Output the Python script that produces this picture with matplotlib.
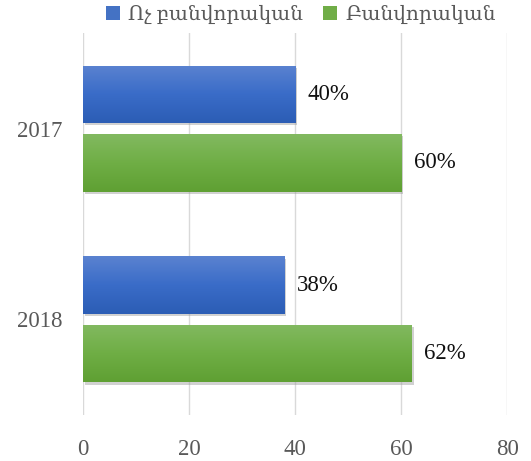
import matplotlib
matplotlib.use("Agg")
import matplotlib.pyplot as plt
import matplotlib.patheffects as pe
import numpy as np
from matplotlib.colors import LinearSegmentedColormap
from matplotlib.patches import Patch

categories = ["2018", "2017"]
series_names = ["Ոչ բանվորական", "Բանվորական"]
non_worker = [38, 40]
worker = [62, 60]
xticks = [0, 20, 40, 60, 80]

fam = ["Liberation Serif", "DejaVu Serif", "DejaVu Sans"]
plt.rcParams["font.family"] = fam

fig = plt.figure(figsize=(5.31, 4.61), dpi=100)
ax = fig.add_axes([0.156, 0.10, 0.799, 0.828])

y = np.arange(len(categories))
h = 0.30
off = 0.18

blue_cmap = LinearSegmentedColormap.from_list("b", ["#5A82D0", "#3A6CC8", "#2C5DB5"])
green_cmap = LinearSegmentedColormap.from_list("g", ["#82B960", "#6FAE45", "#5FA033"])

series = [(non_worker, y + off, blue_cmap, "#4472C4"), (worker, y - off, green_cmap, "#70AD47")]
shadow = [pe.SimplePatchShadow(offset=(1.5, -1.5), shadow_rgbFace="#999999", alpha=0.45), pe.Normal()]

for vals, pos, cmap, col in series:
    bars = ax.barh(pos, vals, height=h, color=col, zorder=3, path_effects=shadow)
    for b, v in zip(bars, vals):
        x0, y0 = b.get_x(), b.get_y()
        grad = np.linspace(0, 1, 64).reshape(-1, 1)
        im = ax.imshow(grad, cmap=cmap, aspect="auto", origin="upper",
                       extent=(x0, x0 + b.get_width(), y0, y0 + b.get_height()), zorder=4)
        im.set_clip_path(b)
        ax.text(v + 2.4, b.get_y() + b.get_height() / 2, f"{v}%", va="center", ha="left",
                fontsize=16.5, color="#111111", zorder=5)

ax.set_xlim(0, 80)
ax.set_ylim(-0.5, 1.5)
ax.set_xticks(xticks)
ax.set_xticklabels([str(t) for t in xticks], fontsize=16.5, color="#595959")
ax.set_yticks(y)
ax.set_yticklabels(categories, fontsize=16.5, color="#595959")
ax.tick_params(axis="both", length=0)
ax.tick_params(axis="x", pad=17)
ax.tick_params(axis="y", pad=15)
ax.grid(axis="x", color="#D9D9D9", linewidth=1, zorder=0)
for s in ax.spines.values():
    s.set_visible(False)

leg_handles = [Patch(facecolor="#4472C4"), Patch(facecolor="#70AD47")]
fig.legend(leg_handles, series_names, loc="center", bbox_to_anchor=(0.567, 0.966), ncol=2,
           frameon=False, fontsize=14.5, handlelength=0.7, handleheight=0.7,
           handletextpad=0.4, columnspacing=1.0, labelcolor="#595959")

fig.savefig("out.png", dpi=100)
